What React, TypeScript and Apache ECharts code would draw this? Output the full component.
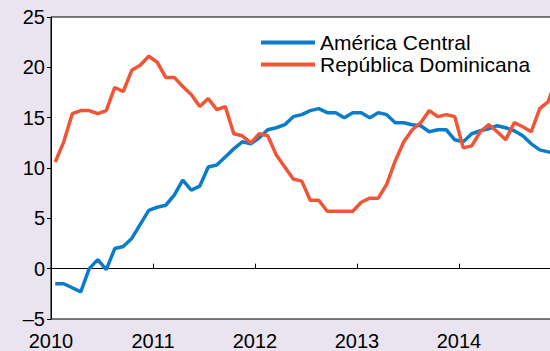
import React, { useEffect, useRef } from "react";
import * as echarts from "echarts";

const seriesNames = ["América Central", "República Dominicana"];
const startYear = 2010;
const yearTicks = [2010, 2011, 2012, 2013, 2014];
const americaCentral = [
  -1.5, -1.5, -1.9, -2.3, 0.0, 0.9, -0.1, 2.0, 2.2, 3.0, 4.4, 5.8,
  6.1, 6.3, 7.3, 8.8, 7.8, 8.2, 10.1, 10.3, 11.1, 11.9, 12.6, 12.4,
  13.0, 13.8, 14.0, 14.3, 15.1, 15.3, 15.7, 15.9, 15.5, 15.5, 15.0, 15.5,
  15.5, 15.0, 15.5, 15.3, 14.5, 14.5, 14.3, 14.2, 13.6, 13.8, 13.8, 12.8,
  12.6, 13.4, 13.7, 13.9, 14.2, 14.0, 13.7, 13.2, 12.4, 11.8, 11.6, 11.4,
];
const republicaDominicana = [
  10.6, 12.6, 15.4, 15.7, 15.7, 15.4, 15.7, 18.0, 17.6, 19.7, 20.2, 21.1,
  20.5, 19.0, 19.0, 18.1, 17.3, 16.1, 16.9, 15.8, 16.1, 13.4, 13.2, 12.5,
  13.4, 13.2, 11.3, 10.1, 8.9, 8.7, 6.8, 6.8, 5.7, 5.7, 5.7, 5.7,
  6.6, 7.0, 7.0, 8.4, 10.7, 12.6, 13.8, 14.5, 15.7, 15.1, 15.3, 15.1,
  12.0, 12.2, 13.6, 14.3, 13.6, 12.8, 14.5, 14.1, 13.6, 15.9, 16.6, 19.0,
];
const yTicks = [-5, 0, 5, 10, 15, 20, 25];

const colors = ["#0b7dc8", "#f05536"];

function toPoints(values: number[]) {
  return values.map((v, i) => [startYear + (i + 0.5) / 12, v]);
}

export default function App() {
  const ref = useRef<HTMLDivElement>(null);
  useEffect(() => {
    if (!ref.current) return;
    const chart = echarts.init(ref.current, null, { renderer: "svg" });
    chart.setOption({
      animation: false,
      backgroundColor: "#e9e4f0",
      textStyle: { fontFamily: "Liberation Sans, Arial, sans-serif" },
      grid: {
        left: 51,
        top: 17,
        bottom: 32,
        right: -11,
        outerBoundsMode: "none",
        containLabel: false,
        show: true,
        backgroundColor: "#ffffff",
        borderColor: "#000000",
        borderWidth: 1,
      },
      legend: {
        orient: "vertical",
        left: 261,
        top: 32,
        padding: 0,
        itemWidth: 54,
        itemHeight: 4,
        itemGap: 1,
        icon: "rect",
        textStyle: { fontSize: 21, color: "#000", fontFamily: "Liberation Sans, Arial, sans-serif" },
        data: seriesNames,
      },
      xAxis: {
        type: "value",
        min: yearTicks[0],
        max: yearTicks[yearTicks.length - 1] + 1,
        interval: 1,
        axisLine: { onZero: true, lineStyle: { color: "#000", width: 1 } },
        axisTick: { inside: true, length: 5, lineStyle: { color: "#000" } },
        axisLabel: {
          margin: 12,
          fontSize: 20,
          color: "#000",
          showMaxLabel: false,
          formatter: (v: number) => String(v),
        },
        splitLine: { show: false },
      },
      yAxis: {
        type: "value",
        min: yTicks[0],
        max: yTicks[yTicks.length - 1],
        interval: 5,
        axisLine: { show: true, onZero: false, lineStyle: { color: "#000", width: 1 } },
        axisTick: { show: true, inside: false, length: 4, lineStyle: { color: "#000" } },
        axisLabel: {
          margin: 6,
          fontSize: 20,
          color: "#000",
          formatter: (v: number) => (v < 0 ? "\u2013" + Math.abs(v) : String(v)),
        },
        splitLine: { show: false },
      },
      series: [
        {
          name: seriesNames[0],
          type: "line",
          showSymbol: false,
          data: toPoints(americaCentral),
          lineStyle: { color: colors[0], width: 3.5 },
          itemStyle: { color: colors[0] },
        },
        {
          name: seriesNames[1],
          type: "line",
          showSymbol: false,
          data: toPoints(republicaDominicana),
          lineStyle: { color: colors[1], width: 3.5 },
          itemStyle: { color: colors[1] },
        },
      ],
    });
    return () => chart.dispose();
  }, []);
  return (
    <div
      ref={ref}
      style={{ position: "fixed", left: 0, top: 0, width: 550, height: 351 }}
    />
  );
}
